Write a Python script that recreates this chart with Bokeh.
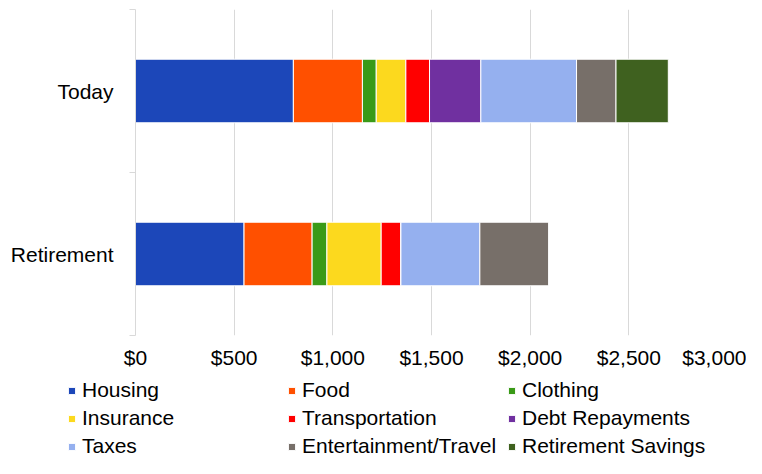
from bokeh.plotting import figure
from bokeh.layouts import column
from bokeh.models import (ColumnDataSource, Range1d, FixedTicker, NumeralTickFormatter,
                          Legend, LegendItem)
from bokeh.embed import file_html
from bokeh.resources import INLINE

categories = ["Today", "Retirement"]
series = ["Housing", "Food", "Clothing", "Insurance", "Transportation",
          "Debt Repayments", "Taxes", "Entertainment/Travel", "Retirement Savings"]
housing = [800, 550]
food = [350, 345]
clothing = [70, 75]
insurance = [150, 275]
transportation = [120, 100]
debt_repayments = [260, 0]
taxes = [485, 400]
entertainment_travel = [200, 350]
retirement_savings = [265, 0]
x_ticks = [0, 500, 1000, 1500, 2000, 2500, 3000]

colors = ["#1C47B9", "#FF5000", "#3A9A17", "#FCD91E", "#FF0000",
          "#7030A0", "#95B0EF", "#776F69", "#3F611F"]

values = [housing, food, clothing, insurance, transportation,
          debt_repayments, taxes, entertainment_travel, retirement_savings]
n = len(categories)
ypos = [n - i - 0.5 for i in range(n)]
data = {"y": ypos, "cat": categories}
keys = []
for i, v in enumerate(values):
    k = f"s{i}"
    keys.append(k)
    data[k] = v
source = ColumnDataSource(data)

FONT = "Liberation Sans"

p = figure(width=746, height=375, output_backend="svg", toolbar_location=None,
           x_range=Range1d(0, 3000), y_range=Range1d(0, n),
           min_border_left=135, min_border_right=19, min_border_top=9,
           min_border_bottom=40)
p.outline_line_color = None
p.frame_align = False

p.hbar_stack(keys, y="y", height=0.39, color=colors, source=source,
             line_color="white", line_width=1)

# x axis
xa = p.xaxis[0]
xa.ticker = FixedTicker(ticks=x_ticks)
xa.formatter = NumeralTickFormatter(format="$0,0")
xa.axis_line_color = None
xa.major_tick_out = 0
xa.major_tick_in = 0
xa.minor_tick_out = 0
xa.minor_tick_in = 0
xa.major_label_standoff = 10
xa.major_label_text_font = FONT
xa.major_label_text_font_size = "21px"
xa.major_label_text_color = "#000000"

# y axis
ya = p.yaxis[0]
ya.ticker = FixedTicker(ticks=ypos, minor_ticks=list(range(n + 1)))
ya.major_label_overrides = {float(y): c for y, c in zip(ypos, categories)}
ya.axis_line_color = "#d9d9d9"
ya.major_tick_out = 0
ya.major_tick_in = 0
ya.minor_tick_out = 6
ya.minor_tick_in = 0
ya.minor_tick_line_color = "#d9d9d9"
ya.major_label_standoff = 16
ya.major_label_text_font = FONT
ya.major_label_text_font_size = "21px"
ya.major_label_text_color = "#000000"

p.xgrid.grid_line_color = "#d9d9d9"
p.xgrid.ticker = FixedTicker(ticks=x_ticks)
p.ygrid.grid_line_color = None

# legend panel (separate figure below the chart); its bars sit outside its view
lf = figure(width=746, height=83, output_backend="svg", toolbar_location=None,
            x_range=Range1d(10000, 10001), y_range=Range1d(10, 11),
            x_axis_type=None, y_axis_type=None,
            min_border_left=0, min_border_right=0, min_border_top=0,
            min_border_bottom=0)
lf.outline_line_color = None
lf.outline_line_alpha = 0
lf.border_fill_color = None
lf.background_fill_color = None
lf.frame_align = False
leg_renderers = lf.hbar_stack(keys, y="y", height=0.39, color=colors, source=source,
                              line_color="white", line_width=1)

items = [LegendItem(label=s, renderers=[r]) for s, r in zip(series, leg_renderers)]
legend = Legend(items=items, location=(67, -2), orientation="horizontal", ncols=3,
                padding=0, margin=0, spacing=0, border_line_color=None,
                background_fill_alpha=0, glyph_width=9, glyph_height=9,
                label_standoff=6, label_width=205, label_height=28,
                label_text_font=FONT, label_text_font_size="21px",
                label_text_color="#000000")
lf.add_layout(legend)

layout = column(p, lf, spacing=0)
open("out.html", "w").write(file_html(layout, INLINE))
